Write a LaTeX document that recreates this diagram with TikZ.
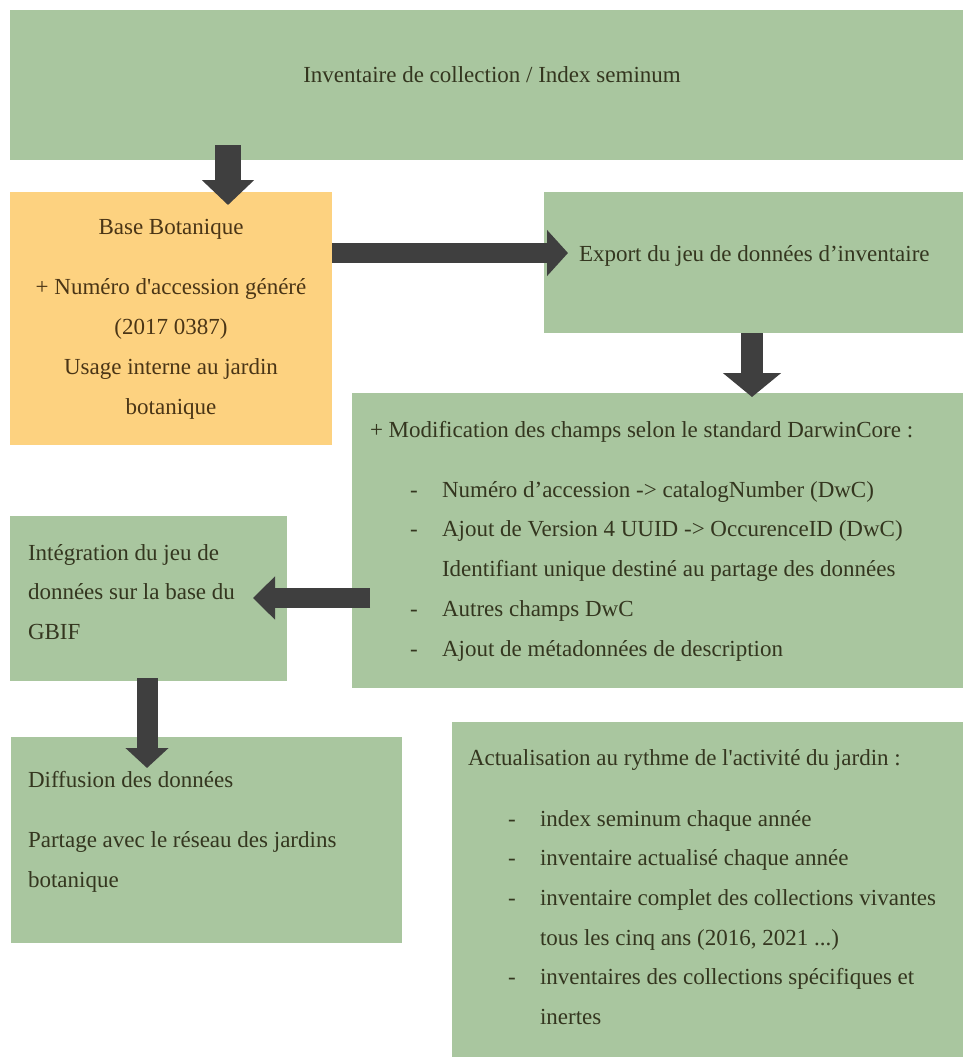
\documentclass[tikz,border=0pt]{standalone}
\usepackage{fontspec}
\setmainfont{Liberation Serif}[Ligatures=TeXOff]
\usetikzlibrary{arrows.meta,calc}
\definecolor{gfill}{HTML}{A9C69F}
\definecolor{ofill}{HTML}{FDD280}
\definecolor{arrowc}{HTML}{3F3F3F}
\definecolor{gtext}{HTML}{34361F}
\definecolor{otext}{HTML}{4A3516}
\tikzset{
  gbox/.style={fill=gfill, draw=none, inner sep=0pt, outer sep=0pt, anchor=north west},
  obox/.style={fill=ofill, draw=none, inner sep=0pt, outer sep=0pt, anchor=north west},
  txt/.style={inner sep=0pt, outer sep=0pt, text height=15pt, text depth=5pt, anchor=west,
    yshift=-2.5pt, text=gtext, font=\fontsize{23}{28}\selectfont},
  otxt/.style={txt, anchor=center, text=otext},
  bigarrow/.style={draw=arrowc, line width=#1, line cap=butt},
}
\begin{document}
\begin{tikzpicture}[x=1pt,y=-1pt]
\useasboundingbox (0,0) rectangle (965,1061);
% boxes
\node[gbox, minimum width=953pt, minimum height=150pt] (inv) at (10,10) {};
\node[obox, minimum width=322pt, minimum height=253pt] (bot) at (10,192) {};
\node[gbox, minimum width=419pt, minimum height=141pt] (exp) at (544,192) {};
\node[gbox, minimum width=611pt, minimum height=295pt] (mod) at (352,393) {};
\node[gbox, minimum width=277pt, minimum height=165pt] (integ) at (10,516) {};
\node[gbox, minimum width=391pt, minimum height=206pt] (diff) at (11,737) {};
\node[gbox, minimum width=511pt, minimum height=335pt] (act) at (452,722) {};
% texts
\node[txt, anchor=center] (tinv) at (492,75) {Inventaire de collection / Index seminum};
\node[otxt] (tb1) at (171,227) {Base Botanique};
\node[otxt] (tb2) at (171,287) {+ Numéro d'accession généré};
\node[otxt] (tb3) at (171,327) {(2017 0387)};
\node[otxt] (tb4) at (171,367) {Usage interne au jardin};
\node[otxt] (tb5) at (171,407) {botanique};
\node[txt] (texp) at (579,254) {Export du jeu de données d’inventaire};
\node[txt] (tm0) at (370,430) {+ Modification des champs selon le standard DarwinCore :};
\node[txt] (dm1) at (410,490) {-};
\node[txt] (tm1) at (442,490) {Numéro d’accession -> catalogNumber (DwC)};
\node[txt] (dm2) at (410,529) {-};
\node[txt] (tm2) at (442,529) {Ajout de Version 4 UUID -> OccurenceID (DwC)};
\node[txt] (tm3) at (442,569) {Identifiant unique destiné au partage des données};
\node[txt] (dm4) at (410,609) {-};
\node[txt] (tm4) at (442,609) {Autres champs DwC};
\node[txt] (dm5) at (410,649) {-};
\node[txt] (tm5) at (442,649) {Ajout de métadonnées de description};
\node[txt] (ti1) at (28,553) {Intégration du jeu de};
\node[txt] (ti2) at (28,592) {données sur la base du};
\node[txt] (ti3) at (28,632) {GBIF};
\node[txt] (td1) at (28,780) {Diffusion des données};
\node[txt] (td2) at (28,840) {Partage avec le réseau des jardins};
\node[txt] (td3) at (28,880) {botanique};
\node[txt] (ta0) at (468,758) {Actualisation au rythme de l'activité du jardin :};
\node[txt] (da1) at (508,819) {-};
\node[txt] (ta1) at (540,819) {index seminum chaque année};
\node[txt] (da2) at (508,858) {-};
\node[txt] (ta2) at (540,858) {inventaire actualisé chaque année};
\node[txt] (da3) at (508,898) {-};
\node[txt] (ta3) at (540,898) {inventaire complet des collections vivantes};
\node[txt] (ta4) at (540,938) {tous les cinq ans (2016, 2021 ...)};
\node[txt] (da5) at (508,977) {-};
\node[txt] (ta5) at (540,977) {inventaires des collections spécifiques et};
\node[txt] (ta6) at (540,1017) {inertes};
% arrows
\draw[bigarrow=26pt, -{Triangle[width=51pt,length=25pt]}]
  ($(inv.south west)+(218,-15)$) -- ($(bot.north west)+(218,13)$);
\draw[bigarrow=20pt, -{Triangle[width=45pt,length=21pt]}]
  ($(bot.north east)+(0,61)$) -- ($(exp.north west)+(24,61)$);
\draw[bigarrow=22pt, -{Triangle[width=57pt,length=24pt]}]
  ($(exp.south west)+(208,0)$) -- ($(mod.north west)+(400,4)$);
\draw[bigarrow=20pt, -{Triangle[width=42pt,length=22pt]}]
  ($(mod.north west)+(18,205)$) -- ($(integ.north east)+(-34,82)$);
\draw[bigarrow=21pt, -{Triangle[width=42pt,length=20pt]}]
  ($(integ.south west)+(137,-3)$) -- ($(diff.north west)+(136,31)$);
\end{tikzpicture}
\end{document}
